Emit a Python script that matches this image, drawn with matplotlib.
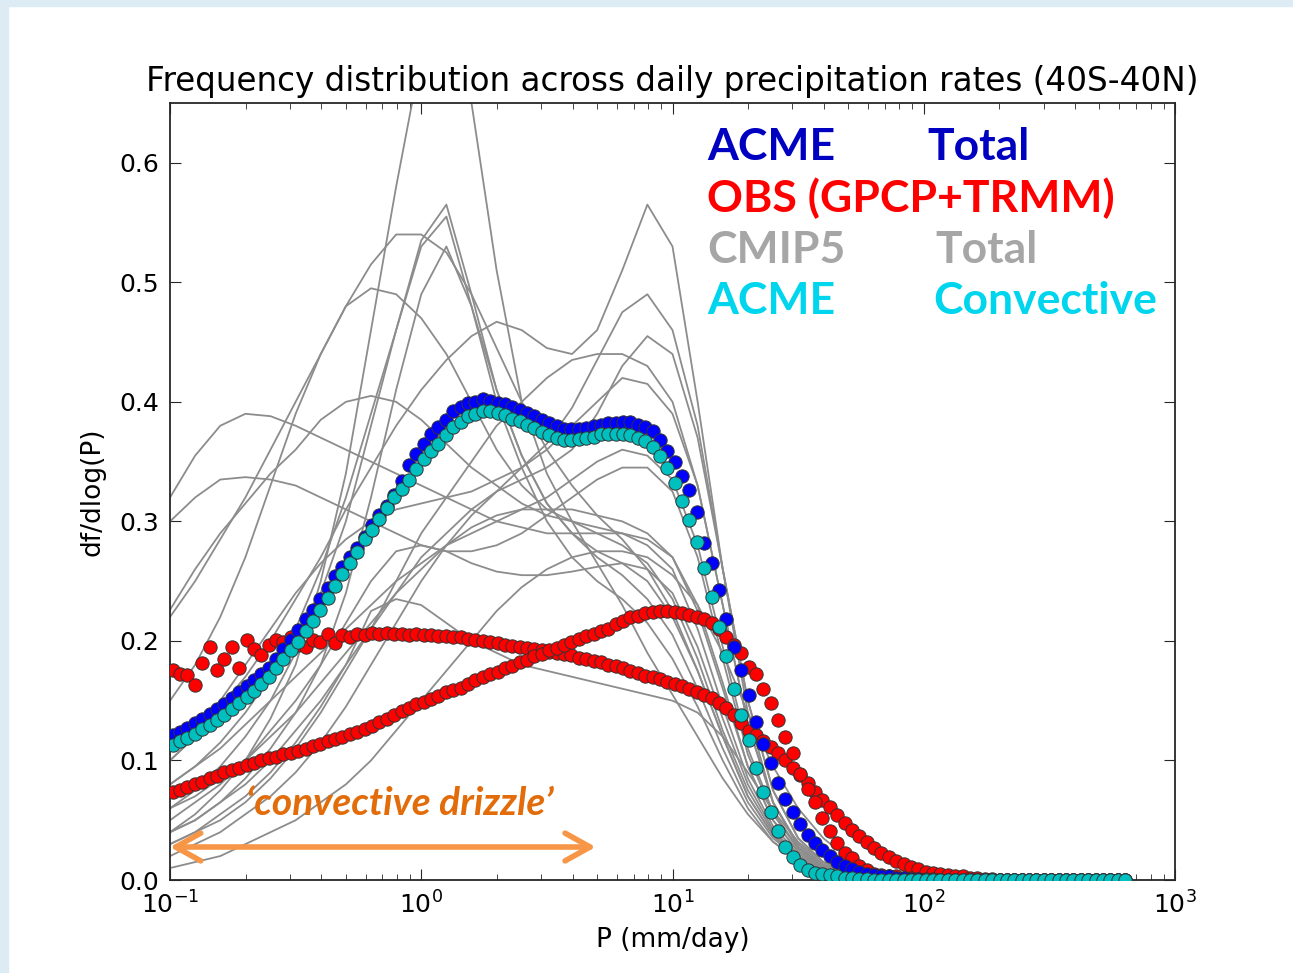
import numpy as np
import matplotlib
matplotlib.use("Agg")
import matplotlib.pyplot as plt
from matplotlib.patches import Rectangle

# bin centres (7% log bins) shared by the marker series
p_bins = 0.1025 * 1.07 ** np.arange(130)

acme_total = [
    0.121, 0.124, 0.127, 0.131, 0.135, 0.139, 0.143, 0.147, 0.152, 0.157,
    0.162, 0.167, 0.172, 0.177, 0.185, 0.193, 0.201, 0.209, 0.218, 0.226,
    0.235, 0.244, 0.254, 0.262, 0.270, 0.278, 0.287, 0.297, 0.305, 0.313,
    0.322, 0.334, 0.347, 0.356, 0.365, 0.373, 0.379, 0.385, 0.392, 0.396,
    0.399, 0.400, 0.402, 0.401, 0.399, 0.398, 0.396, 0.393, 0.391, 0.388,
    0.385, 0.382, 0.380, 0.377, 0.377, 0.377, 0.378, 0.380, 0.381, 0.382,
    0.382, 0.383, 0.383, 0.381, 0.379, 0.376, 0.368, 0.359, 0.350, 0.338,
    0.326, 0.308, 0.282, 0.265, 0.243, 0.218, 0.195, 0.176, 0.155, 0.132,
    0.114, 0.098, 0.081, 0.068, 0.057, 0.047, 0.038, 0.031, 0.025, 0.020,
    0.015, 0.012, 0.009, 0.007, 0.005, 0.004, 0.003, 0.003, 0.002, 0.002,
    0.001, 0.001, 0.0, 0.0, 0.0, 0.0, 0.0, 0.0, 0.0, 0.0,
    0.0, 0.0, 0.0, 0.0, 0.0, 0.0, 0.0, 0.0, 0.0, 0.0,
    0.0, 0.0, 0.0, 0.0, 0.0, 0.0, 0.0, 0.0, 0.0, 0.0,
]

acme_conv = [
    0.113, 0.116, 0.119, 0.122, 0.126, 0.130, 0.134, 0.138, 0.143, 0.148,
    0.153, 0.158, 0.164, 0.170, 0.177, 0.185, 0.192, 0.199, 0.208, 0.217,
    0.226, 0.236, 0.246, 0.256, 0.265, 0.274, 0.285, 0.293, 0.302, 0.311,
    0.320, 0.327, 0.335, 0.344, 0.352, 0.359, 0.365, 0.372, 0.379, 0.383,
    0.388, 0.390, 0.392, 0.392, 0.391, 0.389, 0.386, 0.384, 0.381, 0.378,
    0.375, 0.372, 0.370, 0.368, 0.368, 0.369, 0.370, 0.371, 0.373, 0.373,
    0.373, 0.373, 0.372, 0.370, 0.367, 0.362, 0.355, 0.345, 0.332, 0.317,
    0.301, 0.283, 0.261, 0.237, 0.212, 0.187, 0.160, 0.138, 0.117, 0.094,
    0.074, 0.057, 0.041, 0.028, 0.019, 0.0125, 0.008, 0.006, 0.005, 0.004,
    0.003, 0.002, 0.002, 0.001, 0.001, 0.0, 0.0, 0.0, 0.0, 0.0,
    0.0, 0.0, 0.0, 0.0, 0.0, 0.0, 0.0, 0.0, 0.0, 0.0,
    0.0, 0.0, 0.0, 0.0, 0.0, 0.0, 0.0, 0.0, 0.0, 0.0,
    0.0, 0.0, 0.0, 0.0, 0.0, 0.0, 0.0, 0.0, 0.0, 0.0,
]

obs_a = [
    0.1755, 0.1727, 0.1713, 0.163, 0.1816, 0.195, 0.1755, 0.185, 0.195, 0.1775,
    0.2005, 0.1936, 0.188, 0.1964, 0.2005, 0.199, 0.203, 0.197, 0.195, 0.201,
    0.199, 0.206, 0.198, 0.205, 0.203, 0.206, 0.205, 0.207, 0.206, 0.207,
    0.206, 0.206, 0.205, 0.206, 0.205, 0.205, 0.204, 0.204, 0.203, 0.203,
    0.202, 0.201, 0.200, 0.199, 0.198, 0.197, 0.196, 0.195, 0.194, 0.193,
    0.192, 0.191, 0.190, 0.189, 0.188, 0.186, 0.185, 0.183, 0.182, 0.180,
    0.179, 0.177, 0.175, 0.173, 0.171, 0.170, 0.168, 0.166, 0.164, 0.162,
    0.160, 0.157, 0.155, 0.152, 0.148, 0.144, 0.138, 0.131, 0.125, 0.121,
    0.116, 0.111, 0.106, 0.100, 0.094, 0.088, 0.081, 0.074, 0.067, 0.061,
    0.054, 0.048, 0.042, 0.037, 0.032, 0.027, 0.023, 0.019, 0.016, 0.013,
    0.011, 0.009, 0.007, 0.006, 0.005, 0.004, 0.003, 0.003, 0.002, 0.002,
    0.001, 0.001, 0.0, 0.0, 0.0, 0.0, 0.0, 0.0, 0.0, 0.0,
    0.0, 0.0, 0.0, 0.0, 0.0, 0.0, 0.0, 0.0, 0.0, 0.0,
]

obs_b = [
    0.0735, 0.0755, 0.078, 0.080, 0.082, 0.085, 0.087, 0.090, 0.092, 0.094,
    0.096, 0.098, 0.100, 0.102, 0.103, 0.105, 0.106, 0.108, 0.110, 0.112,
    0.114, 0.116, 0.118, 0.120, 0.122, 0.124, 0.126, 0.129, 0.132, 0.135,
    0.138, 0.141, 0.144, 0.147, 0.149, 0.151, 0.154, 0.157, 0.159, 0.161,
    0.164, 0.167, 0.170, 0.172, 0.174, 0.177, 0.179, 0.182, 0.184, 0.187,
    0.189, 0.192, 0.194, 0.197, 0.199, 0.202, 0.204, 0.206, 0.208, 0.210,
    0.214, 0.217, 0.220, 0.221, 0.223, 0.224, 0.225, 0.225, 0.224, 0.223,
    0.222, 0.220, 0.218, 0.215, 0.210, 0.203, 0.197, 0.190, 0.178, 0.172,
    0.160, 0.148, 0.134, 0.120, 0.106, 0.089, 0.076, 0.065, 0.052, 0.041,
    0.031, 0.023, 0.018, 0.012, 0.008, 0.005, 0.004, 0.003, 0.003, 0.002,
    0.002, 0.001, 0.001, 0.001, 0.0, 0.0, 0.0, 0.0, 0.0, 0.0,
    0.0, 0.0, 0.0, 0.0, 0.0, 0.0, 0.0, 0.0, 0.0, 0.0,
    0.0, 0.0, 0.0, 0.0, 0.0, 0.0, 0.0, 0.0, 0.0, 0.0,
]

# CMIP5 models, sampled every 0.1 decade from 0.1 to 100, plus 10**2.8
cmip_p = 10 ** np.append(np.linspace(-1, 2, 31), 2.8)

cmip5 = [
    [0.04, 0.055, 0.075, 0.10, 0.135, 0.18, 0.25, 0.34, 0.46, 0.58, 0.69, 0.76, 0.65, 0.51, 0.40, 0.34,
     0.30, 0.265, 0.23, 0.19, 0.155, 0.12, 0.085, 0.055, 0.032, 0.017, 0.008, 0.004, 0.002, 0.001, 0.0, 0.0],
    [0.06, 0.075, 0.095, 0.12, 0.15, 0.19, 0.24, 0.30, 0.38, 0.46, 0.535, 0.565, 0.49, 0.41, 0.355, 0.315,
     0.29, 0.27, 0.255, 0.235, 0.205, 0.16, 0.11, 0.065, 0.035, 0.018, 0.009, 0.004, 0.002, 0.001, 0.0, 0.0],
    [0.08, 0.095, 0.115, 0.14, 0.17, 0.21, 0.26, 0.32, 0.39, 0.46, 0.53, 0.555, 0.48, 0.40, 0.345, 0.30,
     0.27, 0.25, 0.235, 0.215, 0.185, 0.145, 0.10, 0.06, 0.032, 0.016, 0.008, 0.004, 0.002, 0.001, 0.0, 0.0],
    [0.04, 0.05, 0.065, 0.085, 0.11, 0.14, 0.18, 0.24, 0.32, 0.41, 0.49, 0.53, 0.48, 0.41, 0.355, 0.315,
     0.29, 0.275, 0.265, 0.25, 0.22, 0.175, 0.12, 0.07, 0.038, 0.019, 0.009, 0.004, 0.002, 0.001, 0.0, 0.0],
    [0.22, 0.25, 0.285, 0.32, 0.36, 0.40, 0.44, 0.48, 0.515, 0.54, 0.54, 0.525, 0.49, 0.445, 0.40, 0.36,
     0.33, 0.305, 0.285, 0.26, 0.225, 0.175, 0.12, 0.07, 0.037, 0.018, 0.009, 0.004, 0.002, 0.001, 0.0, 0.0],
    [0.15, 0.18, 0.22, 0.27, 0.33, 0.39, 0.44, 0.48, 0.495, 0.49, 0.47, 0.44, 0.40, 0.36, 0.33, 0.31,
     0.30, 0.29, 0.28, 0.265, 0.235, 0.185, 0.125, 0.075, 0.04, 0.02, 0.01, 0.005, 0.002, 0.001, 0.0, 0.0],
    [0.10, 0.12, 0.145, 0.17, 0.20, 0.235, 0.27, 0.31, 0.345, 0.38, 0.41, 0.435, 0.455, 0.467, 0.46, 0.445,
     0.44, 0.46, 0.51, 0.565, 0.53, 0.40, 0.26, 0.14, 0.065, 0.028, 0.011, 0.005, 0.002, 0.001, 0.0, 0.0],
    [0.02, 0.03, 0.04, 0.055, 0.07, 0.09, 0.115, 0.145, 0.18, 0.215, 0.25, 0.28, 0.305, 0.325, 0.345, 0.365,
     0.395, 0.435, 0.475, 0.49, 0.46, 0.38, 0.26, 0.15, 0.075, 0.035, 0.015, 0.006, 0.002, 0.001, 0.0, 0.0],
    [0.04, 0.05, 0.065, 0.08, 0.10, 0.125, 0.15, 0.18, 0.21, 0.24, 0.27, 0.29, 0.31, 0.325, 0.335, 0.345,
     0.36, 0.39, 0.43, 0.455, 0.44, 0.37, 0.26, 0.15, 0.075, 0.035, 0.015, 0.006, 0.002, 0.001, 0.0, 0.0],
    [0.03, 0.04, 0.05, 0.065, 0.085, 0.11, 0.14, 0.175, 0.21, 0.25, 0.29, 0.32, 0.35, 0.38, 0.40, 0.42,
     0.435, 0.44, 0.44, 0.43, 0.40, 0.33, 0.23, 0.13, 0.065, 0.03, 0.013, 0.005, 0.002, 0.001, 0.0, 0.0],
    [0.10, 0.12, 0.15, 0.18, 0.21, 0.24, 0.265, 0.285, 0.30, 0.31, 0.315, 0.32, 0.325, 0.335, 0.345, 0.36,
     0.38, 0.40, 0.42, 0.415, 0.39, 0.33, 0.23, 0.13, 0.065, 0.03, 0.013, 0.005, 0.002, 0.001, 0.0, 0.0],
    [0.226, 0.26, 0.29, 0.315, 0.34, 0.36, 0.385, 0.40, 0.405, 0.40, 0.385, 0.365, 0.345, 0.33, 0.315, 0.305,
     0.30, 0.295, 0.29, 0.28, 0.26, 0.21, 0.145, 0.085, 0.045, 0.022, 0.01, 0.004, 0.002, 0.001, 0.0, 0.0],
    [0.32, 0.355, 0.38, 0.39, 0.388, 0.38, 0.37, 0.36, 0.35, 0.34, 0.33, 0.32, 0.31, 0.30, 0.295, 0.29,
     0.29, 0.29, 0.29, 0.285, 0.27, 0.23, 0.165, 0.095, 0.05, 0.024, 0.011, 0.005, 0.002, 0.001, 0.0, 0.0],
    [0.30, 0.32, 0.335, 0.337, 0.335, 0.33, 0.32, 0.31, 0.30, 0.29, 0.28, 0.275, 0.275, 0.28, 0.29, 0.305,
     0.32, 0.335, 0.345, 0.345, 0.325, 0.27, 0.185, 0.105, 0.055, 0.026, 0.012, 0.005, 0.002, 0.001, 0.0, 0.0],
    [0.05, 0.065, 0.08, 0.10, 0.125, 0.15, 0.18, 0.215, 0.25, 0.275, 0.28, 0.275, 0.265, 0.258, 0.255, 0.255,
     0.258, 0.262, 0.265, 0.26, 0.24, 0.195, 0.135, 0.08, 0.042, 0.02, 0.009, 0.004, 0.002, 0.001, 0.0, 0.0],
    [0.03, 0.04, 0.055, 0.07, 0.09, 0.115, 0.145, 0.18, 0.225, 0.235, 0.23, 0.215, 0.20, 0.19, 0.18, 0.175,
     0.17, 0.165, 0.16, 0.155, 0.15, 0.14, 0.12, 0.09, 0.058, 0.032, 0.015, 0.006, 0.002, 0.001, 0.0, 0.0],
    [0.01, 0.015, 0.02, 0.03, 0.04, 0.05, 0.065, 0.08, 0.10, 0.125, 0.15, 0.175, 0.20, 0.225, 0.245, 0.26,
     0.27, 0.275, 0.275, 0.27, 0.255, 0.23, 0.19, 0.14, 0.095, 0.06, 0.035, 0.018, 0.008, 0.003, 0.001, 0.0],
    [0.06, 0.07, 0.085, 0.10, 0.12, 0.14, 0.165, 0.19, 0.215, 0.24, 0.26, 0.28, 0.295, 0.305, 0.31, 0.31,
     0.31, 0.305, 0.30, 0.29, 0.27, 0.225, 0.16, 0.095, 0.05, 0.024, 0.011, 0.005, 0.002, 0.001, 0.0, 0.0],
    [0.08, 0.095, 0.11, 0.13, 0.15, 0.17, 0.19, 0.21, 0.23, 0.25, 0.265, 0.28, 0.29, 0.30, 0.31, 0.32,
     0.335, 0.35, 0.36, 0.355, 0.335, 0.28, 0.195, 0.11, 0.057, 0.027, 0.012, 0.005, 0.002, 0.001, 0.0, 0.0],
]

fig = plt.figure(figsize=(12.93, 9.73), dpi=100)
W, H = 1293, 973
# slide background strips
fig.patches.append(Rectangle((0, 0), 8 / W, 1, transform=fig.transFigure,
                             color="#ddecf4", zorder=0))
fig.patches.append(Rectangle((0, 1 - 6 / H), 1, 6 / H, transform=fig.transFigure,
                             color="#ddecf4", zorder=0))

ax = fig.add_axes([170 / W, 1 - 880 / H, (1175 - 170) / W, (880 - 103) / H])

for model in cmip5:
    ax.plot(cmip_p, model, color="0.55", lw=1.3, zorder=2)

mk = dict(ls="none", marker="o", ms=9.6, mec="0.2", mew=0.7)
ax.plot(p_bins, obs_a, mfc="#ff0000", zorder=3, **mk)
ax.plot(p_bins, obs_b, mfc="#ff0000", zorder=3, **mk)
ax.plot(p_bins, acme_total, mfc="#0000ff", zorder=4, **mk)
ax.plot(p_bins, acme_conv, mfc="#00bfbf", zorder=5, **mk)

ax.set_xscale("log")
ax.set_xlim(0.1, 1000)
ax.set_ylim(0, 0.65)
ax.set_yticks([0.0, 0.1, 0.2, 0.3, 0.4, 0.5, 0.6])
ax.tick_params(which="both", direction="in", top=True, right=True,
               labelsize=18, color="0.15")
ax.tick_params(which="major", length=8, pad=8)
ax.tick_params(which="minor", length=4)
for s in ax.spines.values():
    s.set_linewidth(1.3)
    s.set_color("0.15")

ax.set_title("Frequency distribution across daily precipitation rates (40S-40N)",
             fontsize=23.5, pad=9)
ax.set_xlabel("P (mm/day)", fontsize=19, labelpad=6)
ax.set_ylabel("df/dlog(P)", fontsize=19, labelpad=10)

# drizzle annotation
ax.annotate("", xy=(0.1, 0.0276), xytext=(4.95, 0.0276),
            arrowprops=dict(arrowstyle="<->, head_length=1.8, head_width=1.0",
                            color="#f79646", lw=4, shrinkA=0, shrinkB=0),
            annotation_clip=False, zorder=6)
ax.text(0.82, 0.064, "\u2018convective drizzle\u2019", color="#e36c0a",
        fontsize=28, fontweight="bold", style="italic", family="Lato",
        ha="center", va="center", zorder=6)

# legend written as coloured text
leg = dict(fontsize=32, fontweight="bold", family="Lato", va="baseline")
fig.text(707 / W, 1 - 160 / H, "ACME", color="#0000c0", **leg)
fig.text(927 / W, 1 - 160 / H, "Total", color="#0000c0", **leg)
fig.text(707 / W, 1 - 212 / H, "OBS (GPCP+TRMM)", color="#ff0000", **leg)
fig.text(707 / W, 1 - 263 / H, "CMIP5", color="#a6a6a6", **leg)
fig.text(935 / W, 1 - 263 / H, "Total", color="#a6a6a6", **leg)
fig.text(707 / W, 1 - 314 / H, "ACME", color="#00d5ee", **leg)
fig.text(933 / W, 1 - 314 / H, "Convective", color="#00d5ee", **leg)

fig.savefig("out.png", dpi=100)
